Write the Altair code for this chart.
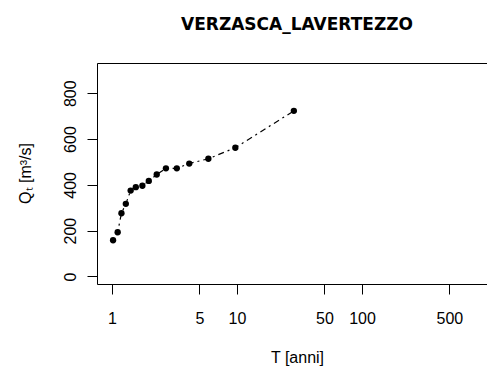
import altair as alt
import pandas as pd

# Return period T (years) and discharge Q_T (m^3/s)
T_anni = [1.02, 1.11, 1.19, 1.29, 1.41, 1.55, 1.75, 1.97, 2.28, 2.7, 3.3, 4.15, 5.9, 9.7, 28.5]
Q_T = [158, 193, 276, 317, 375, 390, 396, 417, 445, 472, 472, 493, 514, 562, 723]

x_ticks = [1, 5, 10, 50, 100, 500, 1000]
y_ticks = [0, 200, 400, 600, 800]

df = pd.DataFrame({"T": T_anni, "Q": Q_T})

FONT = "Liberation Sans"

xscale = alt.Scale(type="log", domain=[0.7586, 1000], nice=False, zero=False)
yscale = alt.Scale(domain=[-33, 932], nice=False, zero=False)

x_bottom = alt.Axis(
    orient="bottom",
    values=x_ticks,
    labelExpr="datum.value == 1000 ? '' : datum.label",
    format="d",
    grid=False,
    domain=True, domainColor="black", domainWidth=1, domainOpacity=1,
    ticks=True, tickColor="black", tickSize=10, tickWidth=1, tickOpacity=1,
    labels=True, labelFont=FONT, labelFontSize=16, labelColor="black",
    labelBaseline="alphabetic", labelPadding=29,
    title="T [anni]", titleFont=FONT, titleFontSize=16, titleFontWeight="normal",
    titleColor="black", titleX=200, titleY=78, titleBaseline="alphabetic",
    titleAlign="center",
)

x_top = alt.Axis(
    orient="top", labels=False, ticks=False, grid=False, title=None,
    domain=True, domainColor="black", domainWidth=1, domainOpacity=1,
)

y_left = alt.Axis(
    orient="left",
    values=y_ticks,
    grid=False,
    domain=True, domainColor="black", domainWidth=1, domainOpacity=1,
    ticks=True, tickColor="black", tickSize=10, tickWidth=1, tickOpacity=1,
    labels=True, labelFont=FONT, labelFontSize=16, labelColor="black",
    labelAngle=270, labelAlign="center", labelBaseline="alphabetic", labelPadding=12,
    title="Qₜ [m³/s]", titleFont=FONT, titleFontSize=16, titleFontWeight="normal",
    titleColor="black", titleAngle=270, titleX=-72, titleY=110,
    titleBaseline="middle", titleAlign="center",
)

points = alt.Chart(df).mark_circle(color="black", size=40, opacity=1).encode(
    x=alt.X("T:Q", scale=xscale, axis=x_bottom),
    y=alt.Y("Q:Q", scale=yscale, axis=y_left),
)

line = alt.Chart(df).mark_line(
    color="black", strokeWidth=1.2, strokeDash=[2, 4, 6, 4]
).encode(
    x=alt.X("T:Q", scale=xscale, axis=x_top),
    y=alt.Y("Q:Q", scale=yscale, axis=None),
)

chart = alt.layer(points, line).resolve_axis(x="independent", y="independent").properties(
    width=390,
    height=221,
    title=alt.TitleParams(
        "VERZASCA_LAVERTEZZO",
        font="DejaVu Sans", fontSize=17, fontWeight="bold", color="black",
        anchor="middle", frame="group", offset=29, dx=5,
    ),
    autosize=alt.AutoSizeParams(type="none"),
    padding={"left": 89, "top": 55, "right": 0, "bottom": 88},
).configure_view(stroke=None).configure(background="white")

chart.save("out.html", embed_options={"renderer": "svg", "actions": False})
